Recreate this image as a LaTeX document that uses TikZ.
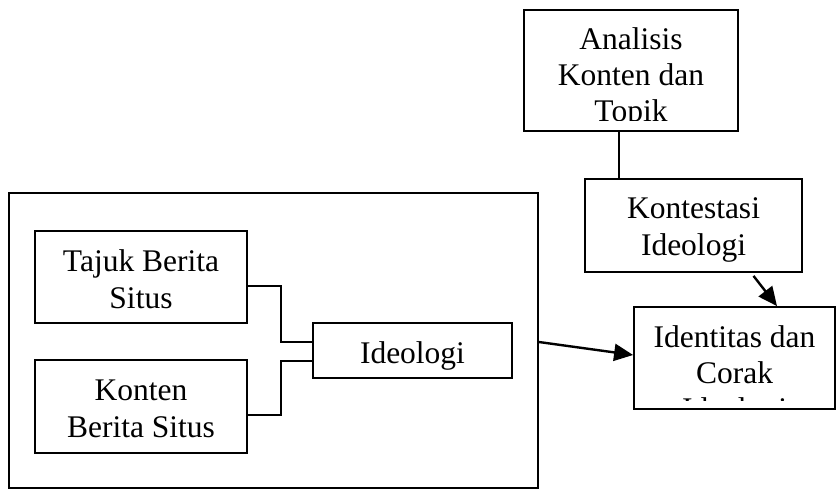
\documentclass[tikz,border=0pt]{standalone}
\usepackage{fontspec}
\setmainfont{Liberation Serif}
\usetikzlibrary{arrows.meta}
\begin{document}
\begin{tikzpicture}[x=1pt,y=-1pt,
  box/.style={draw=black,line width=1.8pt,inner sep=0pt,fill=none},
  txt/.style={anchor=base,inner sep=0pt,font=\fontsize{31.5}{37}\selectfont},
  conn/.style={draw=black,line width=1.3pt},
  arr/.style={draw=black,line width=2.4pt,-{Triangle[length=19pt,width=17pt]}}]
\useasboundingbox (0,0) rectangle (838,489);
\fill[white] (0,0) rectangle (838,489);

% boxes
\node[box,minimum width=529pt,minimum height=295pt] (outer) at (273.5,340.5) {};
\node[box,minimum width=212pt,minimum height=92pt] (tajuk) at (141,277) {};
\node[box,minimum width=212pt,minimum height=93pt] (konten) at (141,406.5) {};
\node[box,minimum width=199pt,minimum height=55pt] (ideo) at (412.5,350.5) {};
\node[box,minimum width=214pt,minimum height=121pt] (anal) at (631,70.5) {};
\node[box,minimum width=217pt,minimum height=93pt] (kont) at (693.5,225.5) {};
\node[box,minimum width=201pt,minimum height=102pt] (iden) at (734.5,358) {};

% texts
\node[txt] (t1) at (141,271) {Tajuk Berita};
\node[txt] (t2) at (141,308) {Situs};
\node[txt] (t3) at (141,400) {Konten};
\node[txt] (t4) at (141,437) {Berita Situs};
\begin{scope}
\clip (313,323) rectangle (512,369);
\node[txt] (t5) at (412.5,363) {Ideologi};
\end{scope}
\begin{scope}
\clip (524,10) rectangle (738,121);
\node[txt] (t6) at (631,50) {Analisis};
\node[txt] (t7) at (631,86) {Konten dan};
\node[txt] (t8) at (631,122) {Topik};
\end{scope}
\begin{scope}
\clip (585,179) rectangle (802,263);
\node[txt] (t9) at (693.5,219) {Kontestasi};
\node[txt] (t10) at (693.5,255) {Ideologi};
\end{scope}
\begin{scope}
\clip (634,307) rectangle (835,400);
\node[txt] (t11) at (734.5,347) {Identitas dan};
\node[txt] (t12) at (734.5,383) {Corak};
\node[txt] (t13) at (734.5,419) {Ideologi};
\end{scope}

% connectors
\draw[conn] ([yshift=-9pt]tajuk.east) -- ++(33,0) |- ([yshift=8.5pt]ideo.west);
\draw[conn] ([yshift=-8.5pt]konten.east) -- ++(33,0) |- ([yshift=-10.5pt]ideo.west);
\draw[line width=2pt] ([xshift=-12pt]anal.south) -- ([xshift=-12pt]anal.south |- kont.north);
\draw[arr] ([yshift=-1.5pt]outer.east) -- ([yshift=3pt]iden.west);
\draw[arr] ([xshift=60pt,yshift=-3pt]kont.south) -- ([xshift=42.5pt]iden.north);
\end{tikzpicture}
\end{document}
